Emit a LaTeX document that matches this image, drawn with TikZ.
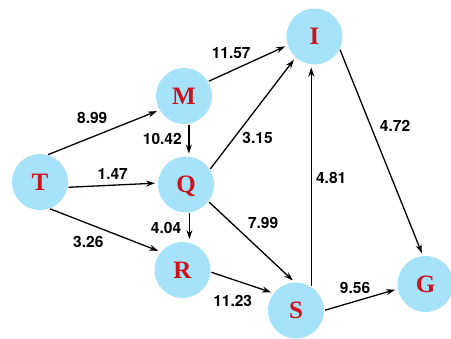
\documentclass[tikz,border=0pt]{standalone}
\usepackage{fontspec}
\setmainfont{Liberation Serif}
\newfontfamily\costfont{TeX Gyre Heros}
\usepackage{tikz}
\usetikzlibrary{
	arrows.meta
}
\definecolor{cityblue}{RGB}{166,226,250}
\definecolor{cityred}{RGB}{204,18,28}

\begin{document}
\begin{tikzpicture}[x=1pt,y=-1pt,
		city/.style={circle,fill=cityblue,minimum size=56pt,inner sep=0pt,outer sep=0pt,
			text=cityred,font=\fontsize{25}{25}\selectfont\bfseries,text height=16.5pt,text depth=0pt},
		road/.style={line width=1.3pt,-{Stealth[length=9pt,width=6pt]},shorten >=3pt,shorten <=1pt},
		cost/.style={inner sep=0pt,font=\costfont\fontsize{15.5}{15.5}\selectfont\bfseries}
	]
		\useasboundingbox (0,0) rectangle (451,339);
		\path[every edge/.append style={road}]
			node[city] (T) at (40,182)    {T}
			node[city] (M) at (184,96)    {M}
			node[city] (Q) at (186,184.5) {Q}
			node[city] (R) at (182.5,270) {R}
			node[city] (I) at (314.5,36.5){I}
			node[city] (S) at (296,310.5) {S}
			node[city] (G) at (425.5,284) {G}

			(T.75)  edge node[cost,pos=.4,above=12.3pt]  {8.99}  (M.210)
			(T.-11) edge node[cost,pos=.5,above=4.8pt]   {1.47}  (Q.177)
			(T.-71) edge node[cost,pos=.35,below=12.4pt] {3.26}  (R.140)
			(M.-80) edge node[cost,pos=.48,left=6.5pt]   {10.42} (M.-80 |- Q.north)
			(Q.-83) edge node[cost,pos=.53,left=7.6pt]   {4.04}  (Q.-83 |- R.north)
			(M.31)  edge node[cost,pos=.29,above=12pt]   {11.57} (I.198)
			(Q.32)  edge node[cost,pos=.28,right=8pt]    {3.15}  (I.228)
			(Q.-37) edge node[cost,pos=.27,right=15.6pt] {7.99}  (S.92)
			(R.-4)  edge node[cost,pos=.35,below=14.8pt] {11.23} (S.142)
			(S.57)  edge node[cost,pos=.49,right=4.2pt]  {4.81}  (S.57 |- I.south)
			(I.-26) edge node[cost,pos=.37,right=8.8pt]  {4.72}  (G.95)
			(S.0)   edge node[cost,pos=.42,above=7.5pt]  {9.56}  (G.190)
		;
	\end{tikzpicture}
\end{document}
